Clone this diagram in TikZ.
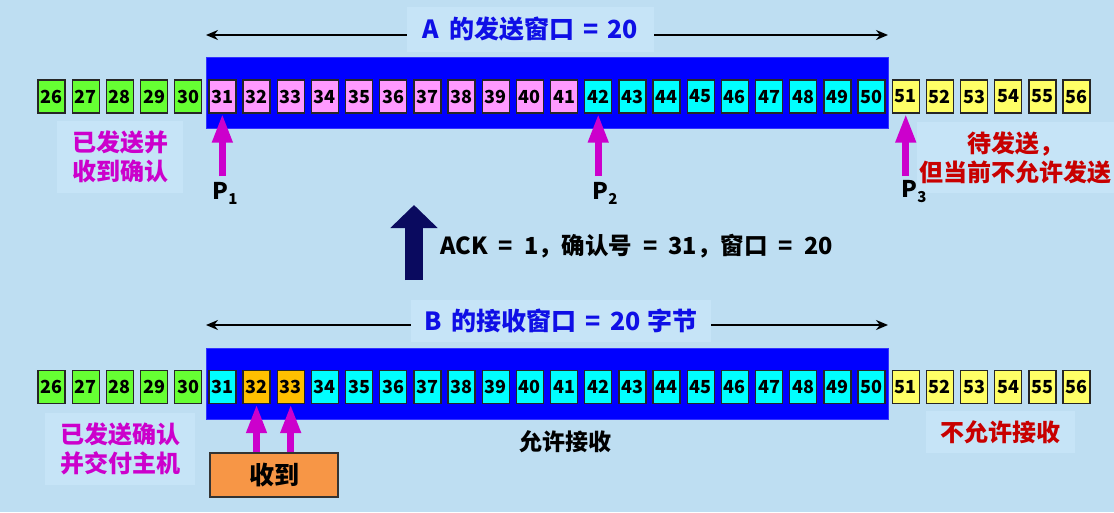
\documentclass[tikz,border=0pt]{standalone}
\usepackage{fontspec}
\setmainfont{Noto Sans CJK SC}
\usetikzlibrary{arrows.meta}
\definecolor{bgc}{RGB}{190,222,242}
\definecolor{lblc}{RGB}{198,228,247}
\definecolor{cgreen}{RGB}{102,255,51}
\definecolor{cpink}{RGB}{255,153,255}
\definecolor{ccyan}{RGB}{0,255,255}
\definecolor{cyellow}{RGB}{255,255,102}
\definecolor{corange}{RGB}{255,192,0}
\definecolor{cbox}{RGB}{247,150,70}
\definecolor{cmag}{RGB}{204,0,204}
\definecolor{cred}{RGB}{200,0,0}
\definecolor{cnavy}{RGB}{10,10,95}
\definecolor{cwin}{RGB}{0,0,255}
\definecolor{ctitle}{RGB}{15,15,230}
\newcommand\myeq{\hspace{9pt}=\hspace{9pt}}
\newcommand\myeqw{\hspace{11pt}=\hspace{11pt}}
\newcommand\mysp{\hspace{10pt}}
\begin{document}
\begin{tikzpicture}[x=1pt,y=-1pt,
  cell/.style={draw=black!85,line width=1.3pt,minimum width=27pt,minimum height=33pt,inner sep=0pt,
    font=\fontsize{18}{18}\selectfont\bfseries},
  winrect/.style={fill=cwin,draw=cwin!80!white,line width=0.8pt,minimum width=682pt,minimum height=71pt,inner sep=0pt},
  winarrow/.style={draw=black,line width=1.8pt,{Stealth[length=12pt,width=10pt]}-{Stealth[length=12pt,width=10pt]}},
  lbl/.style={fill=lblc,inner sep=0pt,align=center,font=\fontsize{24}{29}\selectfont\bfseries},
  title/.style={lbl,text=ctitle,font=\fontsize{25}{25}\selectfont\bfseries},
  parrow/.style={draw=cmag,line width=7pt,-{Triangle[length=29pt,width=19pt]}},
  plabel/.style={font=\fontsize{23}{23}\selectfont\bfseries,inner sep=0pt},
  ackarrow/.style={draw=cnavy,line width=18pt,-{Triangle[length=23pt,width=46pt]}},
]
\fill[bgc] (0,0) rectangle (1114,512);
\useasboundingbox (0,0) rectangle (1114,512);

% ---------- A (sender) ----------
\coordinate (al) at (206,35);
\coordinate (ar) at (888,35);
\draw[winarrow] (al) -- (ar);
\node[title,minimum width=247pt,minimum height=45pt] (la) at (530.5,29.5) {A\mysp 的发送窗口\myeq 20};
\node[winrect] (wa) at (547,92.5) {};
\foreach \n in {26,...,30} \node[cell,fill=cgreen] (a\n) at ({51.5+34.17*(\n-26)},96.5) {\n};
\foreach \n in {31,...,41} \node[cell,fill=cpink] (a\n) at ({51.5+34.17*(\n-26)},96.5) {\n};
\foreach \n in {42,...,50} \node[cell,fill=ccyan] (a\n) at ({51.5+34.17*(\n-26)},96.5) {\n};
\foreach \n in {51,...,56} \node[cell,fill=cyellow] (a\n) at ({51.5+34.17*(\n-26)},96.5) {\n};

\node[lbl,text=cmag,minimum width=126pt,minimum height=72pt] (ta) at (120,157) {已发送并\\收到确认};
\node[lbl,text=cred,minimum width=197pt,minimum height=71pt] (tw) at (1015.5,157.5) {待发送，\\但当前不允许发送};

\coordinate (p1s) at (a31.south |- 0,176);
\coordinate (p2s) at (a42.south |- 0,176);
\coordinate (p3s) at (a51.south |- 0,176);
\draw[parrow] (p1s) -- (a31.south);
\draw[parrow] (p2s) -- (a42.south);
\draw[parrow] (p3s) -- (a51.south);
\node[plabel] (p1) at (225,193) {P\raisebox{-5pt}{\fontsize{15}{15}\selectfont 1}};
\node[plabel] (p2) at (605,193) {P\raisebox{-5pt}{\fontsize{15}{15}\selectfont 2}};
\node[plabel] (p3) at (914,192) {P\raisebox{-5pt}{\fontsize{15}{15}\selectfont 3}};

% ---------- ACK ----------
\coordinate (acks) at (414,280);
\coordinate (acke) at (414,205);
\draw[ackarrow] (acks) -- (acke);
\node[anchor=west,inner sep=0pt,font=\fontsize{23.5}{23.5}\selectfont\bfseries] (ack) at (440,246)
  {ACK\myeqw 1，确认号\myeqw 31，窗口\myeqw 20};

% ---------- B (receiver) ----------
\coordinate (bl) at (206,325);
\coordinate (br) at (888,325);
\draw[winarrow] (bl) -- (br);
\node[title,minimum width=300pt,minimum height=42pt] (lb) at (561,321) {B\mysp 的接收窗口\myeq 20\hspace{7pt}字节};
\node[winrect] (wb) at (547,383.5) {};
\foreach \n in {26,...,30} \node[cell,fill=cgreen] (b\n) at ({51.5+34.17*(\n-26)},387) {\n};
\node[cell,fill=ccyan] (b31) at ({51.5+34.17*5},387) {31};
\foreach \n in {32,33} \node[cell,fill=corange] (b\n) at ({51.5+34.17*(\n-26)},387) {\n};
\foreach \n in {34,...,50} \node[cell,fill=ccyan] (b\n) at ({51.5+34.17*(\n-26)},387) {\n};
\foreach \n in {51,...,56} \node[cell,fill=cyellow] (b\n) at ({51.5+34.17*(\n-26)},387) {\n};

\node[draw=black!80,line width=1.3pt,fill=cbox,minimum width=128pt,minimum height=44pt,inner sep=0pt,
  font=\fontsize{25}{25}\selectfont\bfseries] (sd) at (274,475) {收到};
\draw[parrow] (sd.north -| b32) -- (b32.south);
\draw[parrow] (sd.north -| b33) -- (b33.south);

\node[lbl,text=cmag,minimum width=150pt,minimum height=72pt] (tb) at (120,449) {已发送确认\\并交付主机};
\node[inner sep=0pt,font=\fontsize{23}{23}\selectfont\bfseries] (ok) at (565,442) {允许接收};
\node[lbl,text=cred,minimum width=149pt,minimum height=42pt] (no) at (1000.5,432) {不允许接收};
\end{tikzpicture}
\end{document}
